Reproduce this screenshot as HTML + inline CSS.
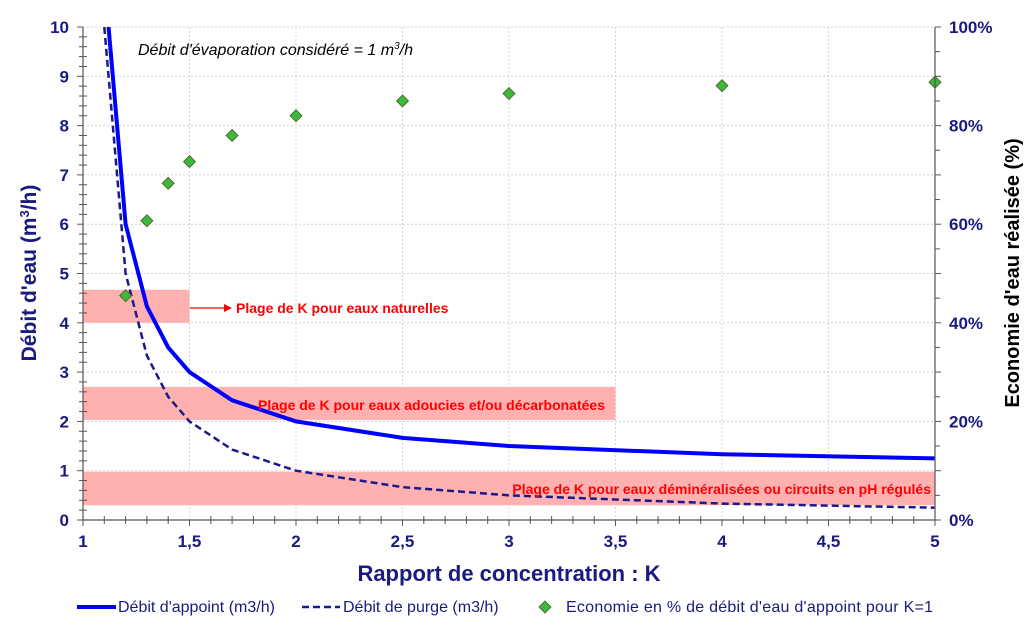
<!DOCTYPE html>
<html><head><meta charset="utf-8"><style>
body{margin:0;background:#fff;}
svg{display:block;font-family:"Liberation Sans",Arial,sans-serif;}
</style></head><body>
<svg id="s" width="1032" height="627" xmlns="http://www.w3.org/2000/svg"></svg>
<script>
const X=k=>83+(k-1)*213.0, Y=v=>520-v*49.3;
let h='<defs><clipPath id="c"><rect x="83" y="27" width="852" height="493"/></clipPath></defs>';
for(let v=1;v<=10;v++) h+=`<line x1="83" x2="935" y1="${Y(v)}" y2="${Y(v)}" stroke="#d4d4d4" stroke-dasharray="2,2"/>`;
for(let k=1.5;k<=5;k+=0.5) h+=`<line y1="27" y2="520" x1="${X(k)}" x2="${X(k)}" stroke="#d4d4d4" stroke-dasharray="2,2"/>`;
h+=`<rect x="83" y="${Y(4.67)}" width="${X(1.5)-83}" height="${Y(4)-Y(4.67)}" fill="#ffb0b0"/>`;
h+=`<rect x="83" y="${Y(2.7)}" width="${X(3.5)-83}" height="${Y(2.03)-Y(2.7)}" fill="#ffb0b0"/>`;
h+=`<rect x="83" y="${Y(0.98)}" width="852" height="${Y(0.3)-Y(0.98)}" fill="#ffb0b0"/>`;
const K=[1.1,1.2,1.3,1.4,1.5,1.7,2,2.5,3,4,5];
h+=`<polyline clip-path="url(#c)" fill="none" stroke="#0000ff" stroke-width="4" points="${K.map(k=>X(k)+','+Y(k/(k-1))).join(' ')}"/>`;
h+=`<polyline clip-path="url(#c)" fill="none" stroke="#1a1a8c" stroke-width="2.5" stroke-dasharray="7,4" points="${K.map(k=>X(k)+','+Y(1/(k-1))).join(' ')}"/>`;
const E=[[1.2,4.55],[1.3,6.07],[1.4,6.83],[1.5,7.27],[1.7,7.8],[2,8.2],[2.5,8.5],[3,8.65],[4,8.81],[5,8.88]];
E.forEach(([k,v])=>{const x=X(k),y=Y(v);h+=`<polygon points="${x},${y-6} ${x+6},${y} ${x},${y+6} ${x-6},${y}" fill="#3cb83c" stroke="#4a5a20" stroke-width="0.8"/>`;});
h+=`<line x1="83" x2="83" y1="27" y2="520" stroke="#555" stroke-width="1.2"/><line x1="83" x2="935" y1="520" y2="520" stroke="#555" stroke-width="1.2"/><line x1="935" x2="935" y1="27" y2="520" stroke="#555" stroke-width="1.2"/>`;
for(let i=0;i<=50;i++){const y=Y(i/5);h+=`<line x1="${i%5?79:77}" x2="${i%5?87:83}" y1="${y}" y2="${y}" stroke="#555"/>`;}
for(let i=0;i<=20;i++){const y=Y(i/2);h+=`<line x1="935" x2="${i%2?940:941}" y1="${y}" y2="${y}" stroke="#555"/>`;}
for(let i=0;i<=40;i++){const x=X(1+i/10);h+=`<line x1="${x}" x2="${x}" y1="${i%5?516:520}" y2="${i%5?524:526}" stroke="#555"/>`;}
for(let v=0;v<=10;v++) h+=`<text x="69" y="${Y(v)+6}" text-anchor="end" font-size="17" font-weight="bold" fill="#1a1a80">${v}</text>`;
for(let v=0;v<=10;v+=2) h+=`<text x="949" y="${Y(v)+6}" font-size="17" font-weight="bold" fill="#1a1a80">${v*10}%</text>`;
['1','1,5','2','2,5','3','3,5','4','4,5','5'].forEach((t,i)=>h+=`<text x="${X(1+i/2)}" y="547" text-anchor="middle" font-size="17" font-weight="bold" fill="#1a1a80">${t}</text>`);
h+=`<text x="509" y="581" text-anchor="middle" font-size="22" font-weight="bold" fill="#1a1a80">Rapport de concentration : K</text>`;
h+=`<text transform="translate(36,273) rotate(-90)" text-anchor="middle" font-size="21" font-weight="bold" fill="#1a1a80">Débit d'eau (m<tspan dy="-7" font-size="13">3</tspan><tspan dy="7">/h)</tspan></text>`;
h+=`<text transform="translate(1019,273) rotate(-90)" text-anchor="middle" font-size="20" font-weight="bold" fill="#000">Economie d'eau réalisée (%)</text>`;
h+=`<text x="138" y="55" font-size="16" font-style="italic" fill="#000">Débit d'évaporation considéré = 1 m<tspan dy="-6" font-size="10">3</tspan><tspan dy="6">/h</tspan></text>`;
h+=`<line x1="190" x2="226" y1="308" y2="308" stroke="#f00" stroke-width="1.2"/><polygon points="232,308 224,304 224,312" fill="#f00"/>`;
h+=`<text x="236" y="313" font-size="14" font-weight="bold" fill="#f00">Plage de K pour eaux naturelles</text>`;
h+=`<text x="258" y="410" font-size="14" font-weight="bold" fill="#f00">Plage de K pour eaux adoucies et/ou décarbonatées</text>`;
h+=`<text x="931" y="494" text-anchor="end" font-size="14" font-weight="bold" fill="#f00">Plage de K pour eaux déminéralisées ou circuits en pH régulés</text>`;
h+=`<line x1="77" x2="116" y1="607" y2="607" stroke="#0000ff" stroke-width="4"/><text x="118" y="612" font-size="16" fill="#1a1a80">Débit d'appoint (m3/h)</text>`;
h+=`<line x1="302" x2="340" y1="607" y2="607" stroke="#1a1a8c" stroke-width="2.5" stroke-dasharray="7,4"/><text x="343" y="612" font-size="16" fill="#1a1a80">Débit de purge (m3/h)</text>`;
h+=`<polygon points="545,601 551,607 545,613 539,607" fill="#3cb83c" stroke="#4a5a20" stroke-width="0.8"/><text x="566" y="612" font-size="16" fill="#1a1a80" textLength="367">Economie en % de débit d'eau d'appoint pour K=1</text>`;
document.getElementById('s').innerHTML=h;
</script>
</body></html>
